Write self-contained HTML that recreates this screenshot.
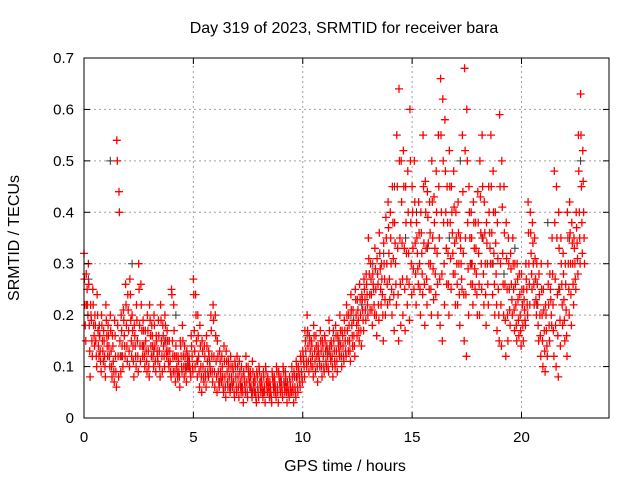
<!DOCTYPE html>
<html><head><meta charset="utf-8"><style>
body{margin:0;background:#fff;}
svg{display:block;font-family:"Liberation Sans",sans-serif;}
</style></head><body>
<svg id="chart" width="640" height="480">
<rect width="640" height="480" fill="#fff"/>
<g id="grid"></g>
<g id="blk"></g>
<g id="red"></g>
<g id="axes"></g>
<text x="344" y="33" text-anchor="middle" font-size="16" fill="#000">Day 319 of 2023, SRMTID for receiver bara</text>
<text x="345" y="471" text-anchor="middle" font-size="16" fill="#000">GPS time / hours</text>
<text x="19" y="238" text-anchor="middle" font-size="16" fill="#000" transform="rotate(-90 19 238)">SRMTID / TECUs</text>
</svg>
<script>
const xTicks=[0,5,10,15,20];
const yTicks=[0,0.1,0.2,0.3,0.4,0.5,0.6,0.7];
const yTickLabels=["0","0.1","0.2","0.3","0.4","0.5","0.6","0.7"];
const hi=[.32,.28,.30,.22,.25,.20,.24,.18,.20,.17,
.22,.18,.20,.16,.19,.54,.44,.20,.21,.26,
.24,.27,.20,.18,.22,.30,.26,.19,.17,.20,
.22,.18,.20,.16,.19,.22,.18,.20,.17,.15,
.25,.22,.14,.12,.15,.18,.14,.13,.12,.16,
.27,.24,.20,.18,.15,.14,.16,.13,.20,.22,
.20,.15,.13,.12,.14,.13,.11,.12,.10,.11,
.12,.11,.10,.09,.12,.10,.09,.11,.08,.09,
.10,.08,.09,.10,.08,.07,.09,.08,.10,.09,
.08,.10,.09,.07,.08,.10,.09,.11,.10,.12,
.13,.17,.20,.16,.15,.18,.16,.14,.17,.15,
.16,.14,.19,.15,.17,.18,.16,.20,.17,.19,
.22,.20,.24,.21,.25,.23,.26,.24,.27,.28,
.35,.30,.28,.33,.31,.36,.30,.34,.39,.42,
.40,.45,.38,.55,.64,.50,.52,.45,.48,.60,
.45,.50,.38,.42,.40,.55,.46,.44,.42,.50,
.43,.48,.55,.66,.62,.58,.45,.52,.45,.48,
.40,.42,.35,.55,.68,.60,.45,.40,.42,.38,
.44,.50,.55,.42,.38,.45,.55,.48,.40,.38,
.59,.50,.45,.38,.35,.32,.35,.30,.30,.28,
.28,.25,.30,.42,.40,.38,.35,.30,.28,.30,
.25,.22,.30,.28,.35,.48,.45,.40,.35,.32,
.30,.40,.42,.38,.35,.40,.55,.63,.52];
const upperMid=[.27,.22,.26,.20,.22,.18,.20,.16,.18,.15,
.19,.16,.17,.14,.16,.50,.40,.17,.19,.22,
.21,.24,.17,.16,.19,.25,.22,.17,.15,.17,
.19,.16,.18,.15,.16,.19,.16,.18,.15,.13,
.24,.17,.12,.11,.14,.15,.12,.12,.11,.14,
.24,.20,.16,.14,.13,.12,.14,.12,.17,.19,
.16,.12,.11,.10,.11,.11,.10,.10,.09,.10,
.10,.09,.08,.08,.10,.09,.08,.09,.07,.08,
.09,.07,.08,.09,.07,.06,.08,.07,.09,.08,
.07,.09,.08,.06,.07,.08,.08,.10,.09,.11,
.12,.15,.17,.15,.14,.16,.14,.13,.15,.14,
.15,.13,.17,.14,.15,.16,.15,.17,.16,.17,
.20,.18,.21,.19,.23,.21,.23,.23,.25,.26,
.31,.27,.26,.29,.28,.32,.27,.30,.35,.37,
.35,.38,.34,.45,.50,.42,.45,.38,.40,.50,
.40,.42,.35,.36,.36,.45,.40,.39,.36,.42,
.38,.40,.45,.55,.50,.48,.38,.45,.40,.41,
.35,.36,.33,.44,.52,.50,.40,.35,.38,.33,
.38,.43,.45,.36,.34,.40,.45,.40,.34,.31,
.45,.41,.36,.31,.30,.29,.30,.26,.27,.24,
.25,.23,.27,.36,.36,.34,.31,.26,.24,.25,
.21,.20,.26,.25,.28,.38,.35,.33,.30,.28,
.26,.35,.36,.34,.33,.37,.48,.55,.46];
const mid=[.22,.25,.18,.19,.18,.15,.17,.13,.15,.12,
.16,.14,.13,.11,.12,.18,.15,.14,.16,.18,
.17,.19,.14,.14,.15,.18,.17,.14,.13,.13,
.16,.14,.14,.13,.13,.15,.14,.15,.13,.11,
.15,.12,.10,.09,.12,.12,.10,.11,.10,.12,
.17,.15,.12,.10,.10,.09,.11,.11,.12,.12,
.11,.09,.09,.08,.08,.09,.08,.08,.07,.08,
.08,.07,.06,.07,.07,.08,.06,.07,.05,.06,
.07,.06,.06,.07,.06,.05,.07,.06,.06,.07,
.06,.07,.06,.05,.06,.06,.06,.08,.08,.09,
.11,.13,.14,.13,.12,.13,.12,.12,.13,.12,
.13,.12,.14,.12,.13,.13,.14,.14,.14,.15,
.17,.15,.18,.16,.20,.19,.20,.21,.23,.24,
.28,.24,.25,.25,.26,.29,.24,.27,.30,.32,
.30,.31,.30,.33,.35,.34,.33,.32,.32,.38,
.33,.34,.32,.30,.32,.34,.33,.34,.30,.35,
.33,.32,.35,.40,.38,.40,.32,.38,.36,.34,
.30,.30,.30,.32,.35,.38,.35,.30,.33,.28,
.32,.36,.35,.30,.30,.36,.36,.32,.28,.25,
.30,.32,.26,.25,.25,.26,.25,.22,.23,.20,
.22,.21,.25,.30,.32,.30,.27,.22,.20,.20,
.17,.17,.22,.23,.22,.27,.24,.25,.26,.23,
.21,.30,.30,.30,.30,.34,.40,.45,.40];
const lowerMid=[.18,.22,.13,.15,.16,.12,.14,.11,.13,.10,
.14,.12,.10,.09,.09,.12,.12,.12,.14,.14,
.13,.15,.11,.12,.12,.14,.14,.12,.11,.10,
.14,.12,.11,.12,.10,.12,.12,.13,.11,.09,
.12,.09,.09,.08,.10,.10,.09,.10,.09,.10,
.13,.11,.09,.08,.08,.08,.09,.10,.09,.09,
.08,.07,.08,.06,.06,.07,.06,.07,.05,.06,
.06,.06,.05,.06,.05,.07,.05,.06,.04,.05,
.06,.05,.05,.06,.05,.04,.06,.05,.05,.06,
.05,.06,.05,.05,.05,.05,.05,.06,.07,.08,
.10,.11,.11,.11,.10,.11,.10,.11,.10,.10,
.11,.10,.12,.10,.11,.11,.13,.12,.12,.13,
.15,.13,.16,.14,.18,.17,.17,.19,.21,.22,
.24,.21,.22,.20,.22,.25,.20,.23,.26,.27,
.25,.24,.26,.24,.26,.27,.25,.27,.26,.30,
.29,.28,.29,.25,.28,.26,.27,.30,.25,.29,
.28,.26,.27,.28,.30,.33,.26,.31,.32,.28,
.26,.24,.27,.24,.24,.29,.30,.26,.29,.24,
.26,.30,.28,.24,.26,.33,.30,.26,.22,.20,
.22,.26,.19,.20,.21,.23,.21,.18,.19,.17,
.18,.19,.22,.26,.28,.26,.23,.18,.16,.15,
.13,.14,.18,.20,.17,.18,.16,.19,.22,.19,
.16,.25,.24,.26,.27,.31,.35,.38,.35];
const lo=[.15,.20,.08,.12,.14,.10,.12,.09,.11,.08,
.12,.10,.08,.07,.06,.08,.09,.10,.12,.11,
.10,.12,.08,.10,.09,.11,.12,.10,.09,.08,
.12,.10,.09,.11,.08,.09,.10,.12,.10,.08,
.09,.07,.08,.06,.09,.08,.07,.10,.08,.09,
.10,.08,.06,.05,.07,.06,.08,.09,.07,.06,
.05,.06,.07,.05,.04,.06,.05,.06,.04,.05,
.04,.05,.03,.05,.04,.06,.04,.05,.03,.04,
.05,.04,.03,.05,.04,.03,.05,.04,.03,.05,
.04,.05,.03,.04,.05,.03,.04,.05,.06,.07,
.08,.10,.09,.10,.08,.09,.07,.10,.08,.09,
.10,.09,.11,.08,.10,.09,.12,.10,.11,.12,
.13,.11,.14,.12,.16,.15,.14,.17,.19,.20,
.21,.18,.20,.16,.19,.22,.15,.20,.22,.23,
.20,.17,.22,.15,.18,.20,.17,.22,.19,.24,
.25,.22,.26,.20,.24,.18,.22,.25,.20,.23,
.24,.20,.18,.15,.22,.26,.20,.25,.28,.22,
.22,.18,.25,.15,.12,.20,.26,.22,.25,.20,
.20,.25,.22,.18,.22,.30,.24,.20,.17,.15,
.14,.20,.12,.15,.18,.20,.17,.15,.16,.14,
.15,.18,.20,.22,.25,.22,.20,.15,.12,.10,
.09,.12,.15,.18,.12,.10,.08,.14,.18,.15,
.12,.20,.18,.22,.25,.28,.30,.32,.30];
const blackVals=[.27,.16,.50,.12,.30,.14,.13,.15,.20,.10,.11,.08,.07,.06,.06,.05,.05,.06,.07,.08,
.16,.13,.13,.15,.20,.22,.30,.32,.45,.35,.40,.33,.55,.35,.50,.30,.35,.30,.28,.33,.30,.22,.38,.25,.35,.50];
const X0=84,X1=609,Y0=418,Y1=58;
const xs=t=>X0+t*(X1-X0)/24;
const ys=v=>Y0-v*(Y0-Y1)/0.7;
const NS="http://www.w3.org/2000/svg";
function mk(tag,attrs,parent){const e=document.createElementNS(NS,tag);for(const k in attrs)e.setAttribute(k,attrs[k]);parent.appendChild(e);return e;}
const grid=document.getElementById('grid'),axes=document.getElementById('axes');
yTicks.forEach((v,i)=>{
  if(i>0&&i<yTicks.length-1){const l=mk('line',{x1:X0,x2:X1,y1:ys(v),y2:ys(v),stroke:'#a0a0a0','stroke-dasharray':'2,3'},grid);
  
  }
  const t=mk('text',{x:X0-10,y:ys(v)+5,'text-anchor':'end','font-size':15},axes);t.textContent=yTickLabels[i];
  
  
  mk('line',{x1:X0,x2:X0+6,y1:ys(v),y2:ys(v),stroke:'#000'},axes);
  mk('line',{x1:X1,x2:X1-6,y1:ys(v),y2:ys(v),stroke:'#000'},axes);
});
xTicks.forEach(v=>{
  if(v>0){const l=mk('line',{x1:xs(v),x2:xs(v),y1:Y0,y2:Y1,stroke:'#a0a0a0','stroke-dasharray':'2,3'},grid);
  
  }
  const t=mk('text',{x:xs(v),y:Y0+24,'text-anchor':'middle','font-size':15},axes);t.textContent=String(v);
  
  
  mk('line',{x1:xs(v),x2:xs(v),y1:Y0,y2:Y0-6,stroke:'#000'},axes);
  mk('line',{x1:xs(v),x2:xs(v),y1:Y1,y2:Y1+6,stroke:'#000'},axes);
});
const fr=mk('rect',{x:X0,y:Y1,width:X1-X0,height:Y0-Y1,fill:'none',stroke:'#000'},axes);


function plus(cx,cy){return `M${(cx-4).toFixed(1)} ${cy.toFixed(1)}h8M${cx.toFixed(1)} ${(cy-4).toFixed(1)}v8`;}
let dBlk='';
blackVals.forEach((v,i)=>{dBlk+=plus(xs(i*0.5+0.2),ys(v));});
const pb=mk('path',{d:dBlk,stroke:'#333',fill:'none','stroke-width':1},document.getElementById('blk'));


let dRed='';
[[hi,0],[upperMid,0.02],[mid,0.04],[lowerMid,0.06],[lo,0.08]].forEach(([arr,off])=>{
  arr.forEach((v,i)=>{dRed+=plus(xs(i*0.1+off),ys(v));});
});
const pr=mk('path',{d:dRed,stroke:'#ff0000',fill:'none','stroke-width':1.3},document.getElementById('red'));


</script>
</body></html>
